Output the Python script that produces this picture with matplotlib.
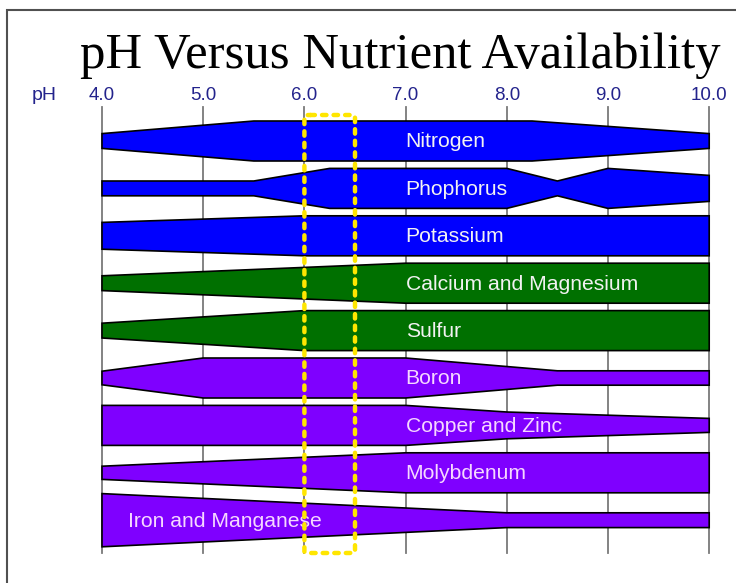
import numpy as np
import matplotlib
matplotlib.use("Agg")
import matplotlib.pyplot as plt
from matplotlib.patches import FancyBboxPatch, Rectangle

# nutrient bands, top to bottom
nutrients = ["Nitrogen", "Phophorus", "Potassium", "Calcium and Magnesium", "Sulfur",
             "Boron", "Copper and Zinc", "Molybdenum", "Iron and Manganese"]
colors = ["#0000ff", "#0000ff", "#0000ff", "#007000", "#007000",
          "#7f00ff", "#7f00ff", "#7f00ff", "#7f00ff"]
text_colors = ["#f2f2f2"] * 5 + ["#f6d8ff"] * 4

# breakpoints (pH) and relative band width at each breakpoint
ph_pts = [
    [4, 5.5, 8.25, 10],
    [4, 5.5, 6.25, 8.0, 8.5, 9.0, 10],
    [4, 6, 10],
    [4, 7, 10],
    [4, 6, 10],
    [4, 5, 7, 8.5, 10],
    [4, 7, 8, 10],
    [4, 7, 10],
    [4, 8, 10],
]
widths = [
    [0.37, 1, 1, 0.37],
    [0.37, 0.37, 1, 1, 0.37, 1, 0.65],
    [0.67, 1, 1],
    [0.37, 1, 1],
    [0.37, 1, 1],
    [0.34, 1, 1, 0.36, 0.36],
    [1, 1, 0.67, 0.35],
    [0.33, 1, 1],
    [1.33, 0.37, 0.37],
]
label_ph = [7.0] * 8 + [4.26]

ph_ticks = [4.0, 5.0, 6.0, 7.0, 8.0, 9.0, 10.0]
tick_labels = ["4.0", "5.0", "6.0", "7.0", "8.0", "9.0", "10.0"]
optimum = (6.0, 6.5)   # yellow highlighted range

# layout in pixels
W, H = 736, 583
x4, px_per_ph = 102, 101.2       # pixel x of pH 4.0, pixels per pH unit
y0, row_px = 141, 47.4           # pixel y of first band centre, row spacing
band_px = 40.0                   # full band height

fig = plt.figure(figsize=(W / 100, H / 100), dpi=100)
ax = fig.add_axes([0, 0, 1, 1])
ax.set_xlim(4 - x4 / px_per_ph, 4 + (W - x4) / px_per_ph)
ax.set_ylim((H - y0) / row_px, -y0 / row_px)
ax.axis("off")

def py(p):
    # pixel y -> row units
    return (p - y0) / row_px

half = band_px / row_px / 2

# grid lines
for t in ph_ticks:
    ax.plot([t, t], [py(107), py(553)], color="#7a7a7a", lw=1.3, zorder=1)

# bands
for i, name in enumerate(nutrients):
    x = np.array(ph_pts[i], dtype=float)
    w = np.array(widths[i]) * half
    top = i - w
    bot = i + w
    ax.fill(np.concatenate([x, x[::-1]]), np.concatenate([top, bot[::-1]]),
            facecolor=colors[i], edgecolor="black", lw=1.2, zorder=2)
    ax.text(label_ph[i], i + 0.02, name, color=text_colors[i], fontsize=15.2,
            family="Liberation Sans", ha="left", va="center", zorder=3)

# optimum range box
box = FancyBboxPatch((optimum[0], py(115)), optimum[1] - optimum[0], py(553) - py(115),
                     boxstyle="round,pad=0,rounding_size=0.06", mutation_aspect=0.5,
                     fill=False, edgecolor="#ffe600", lw=3.2,
                     linestyle=(0, (1, 1.6)), capstyle="round", zorder=4)
ax.add_patch(box)

# tick labels along the top
for t, lab in zip(ph_ticks, tick_labels):
    ax.text(t, py(96), lab, color="#23238c", fontsize=13.5, family="Liberation Sans",
            ha="center", va="center")
ax.text(4 - 58 / px_per_ph, py(96), "pH", color="#23238c", fontsize=14,
        family="Liberation Sans", ha="center", va="center")

# title
fig.text(400 / W, 1 - 68 / H, "pH Versus Nutrient Availability", fontsize=36.5,
         family="Liberation Serif", ha="center", va="baseline")

# frame around the slide
fig.patches.append(Rectangle((7 / W, -0.1), 1.2, 1 - 10 / H + 0.1, transform=fig.transFigure,
                             fill=False, edgecolor="#505050", lw=1.5))

fig.savefig("out.png", dpi=100)
